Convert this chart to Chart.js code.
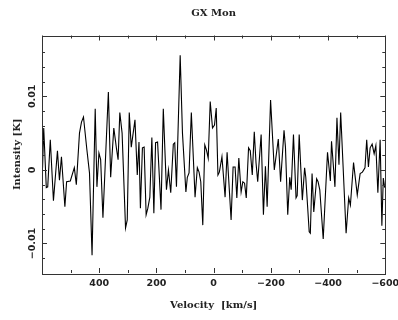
<!DOCTYPE html>
<html>
<head>
<meta charset="utf-8">
<script src="https://cdn.jsdelivr.net/npm/chart.js@4/dist/chart.umd.min.js"></script>
<style>
  html, body { margin: 0; padding: 0; background: #ffffff; }
  #wrap { width: 398px; height: 320px; }
</style>
</head>
<body>
<div id="wrap"><canvas id="spec" width="398" height="320"></canvas></div>
<script>
// GX Mon spectrum: velocity channels (km/s) and antenna intensity (K)
const velocity = [
  598, 594, 585, 580, 571, 560, 546, 539, 532, 520,
  514, 501, 487, 480, 469, 462, 455, 443, 434, 425,
  414, 408, 401, 395, 387, 368, 360, 349, 340, 334,
  328, 320, 308, 302, 295, 288, 275, 267, 261, 256,
  249, 243, 236, 230, 223, 216, 209, 203, 196, 184,
  176, 165, 158, 150, 141, 136, 130, 117, 109, 97,
  92, 86, 78, 65, 57, 51, 45, 38, 31, 25,
  19, 12, 4, -3, -9, -15, -20, -29, -40, -47,
  -61, -68, -75, -81, -88, -96, -102, -108, -114, -122,
  -128, -135, -142, -148, -154, -166, -174, -181, -187, -199,
  -212, -226, -234, -246, -251, -259, -266, -271, -279, -288,
  -292, -299, -310, -318, -322, -334, -338, -344, -350, -360,
  -365, -371, -383, -398, -408, -412, -424, -431, -438, -444,
  -463, -472, -478, -489, -502, -512, -520, -529, -535, -541,
  -547, -554, -561, -567, -574, -582, -588, -593, -598
];
const intensity = [
  0.0003, 0.0057, -0.0024, -0.0023, 0.0041, -0.0042, 0.0026, -0.0014, 0.0018, -0.0050,
  -0.0016, -0.0015, 0.0003, -0.0020, 0.0050, 0.0065, 0.0072, 0.0027, -0.0004, -0.0116,
  0.0083, -0.0023, 0.0023, 0.0014, -0.0065, 0.0106, -0.0010, 0.0057, 0.0030, 0.0014,
  0.0078, 0.0050, -0.0079, -0.0068, 0.0078, 0.0031, 0.0068, -0.0007, 0.0038, -0.0052,
  0.0030, 0.0031, -0.0061, -0.0052, -0.0037, 0.0044, -0.0059, 0.0037, 0.0038, -0.0054,
  0.0083, -0.0027, 0.0000, -0.0031, 0.0035, 0.0037, -0.0023, 0.0156, 0.0050, -0.0030,
  -0.0010, -0.0004, 0.0078, -0.0037, 0.0003, -0.0003, -0.0016, -0.0075, 0.0034, 0.0027,
  0.0016, 0.0093, 0.0057, 0.0061, 0.0084, -0.0007, -0.0003, 0.0018, -0.0037, 0.0024,
  -0.0068, 0.0004, 0.0004, -0.0038, 0.0016, -0.0030, -0.0016, -0.0018, -0.0038, 0.0030,
  0.0026, -0.0007, 0.0052, 0.0010, -0.0016, 0.0048, -0.0061, 0.0005, -0.0050, 0.0095,
  0.0000, 0.0042, -0.0016, 0.0054, 0.0031, -0.0061, -0.0010, -0.0027, 0.0048, -0.0038,
  -0.0035, 0.0048, -0.0041, 0.0003, -0.0010, -0.0084, -0.0086, -0.0005, -0.0057, -0.0012,
  -0.0016, -0.0027, -0.0094, 0.0024, -0.0015, 0.0039, -0.0023, 0.0071, 0.0007, 0.0078,
  -0.0086, -0.0038, -0.0048, 0.0010, -0.0034, -0.0005, -0.0003, 0.0003, 0.0041, 0.0004,
  0.0030, 0.0035, 0.0022, 0.0033, -0.0031, 0.0041, -0.0076, -0.0011, -0.0024
];

// Axis ticks
const xMajorTicks = [600, 400, 200, 0, -200, -400, -600];
const xMinorTicks = [500, 300, 100, -100, -300, -500];
const xTickLabels = ['', '400', '200', '0', '\u2212200', '\u2212400', '\u2212600'];
const yMajorTicks = [0.01, 0, -0.01];
const yMinorTicks = [0.016, 0.014, 0.012, 0.008, 0.006, 0.004, 0.002,
                     -0.002, -0.004, -0.006, -0.008, -0.012];
const yTickLabels = ['0.01', '0', '\u22120.01'];

const titleText = 'GX Mon';
const xTitle = 'Velocity  [km/s]';
const yTitle = 'Intensity [K]';

const TICK_FONT = 'bold 9.5px "DejaVu Sans"';
const TITLE_FONT = 'bold 10px "DejaVu Serif"';
const INK = '#222222';

// Boxed frame with inward ticks on all four sides, plus labels
const boxFrame = {
  id: 'boxFrame',
  afterDraw(chart) {
    const { ctx, chartArea: a, scales } = chart;
    const xs = scales.x, ys = scales.y;
    ctx.save();
    ctx.strokeStyle = '#333333';
    ctx.lineWidth = 1;
    ctx.strokeRect(Math.round(a.left) + 0.5, Math.round(a.top) + 0.5,
                   Math.round(a.right - a.left), Math.round(a.bottom - a.top));

    const vTick = (v, len) => {
      const p = Math.round(xs.getPixelForValue(v)) + 0.5;
      ctx.beginPath();
      ctx.moveTo(p, a.bottom); ctx.lineTo(p, a.bottom - len);
      ctx.moveTo(p, a.top); ctx.lineTo(p, a.top + len);
      ctx.stroke();
    };
    const hTick = (v, len) => {
      const p = Math.round(ys.getPixelForValue(v)) + 0.5;
      ctx.beginPath();
      ctx.moveTo(a.left, p); ctx.lineTo(a.left + len, p);
      ctx.moveTo(a.right, p); ctx.lineTo(a.right - len, p);
      ctx.stroke();
    };
    xMajorTicks.forEach(v => vTick(v, 5));
    xMinorTicks.forEach(v => vTick(v, 3));
    yMajorTicks.forEach(v => hTick(v, 5));
    yMinorTicks.forEach(v => hTick(v, 3));

    ctx.fillStyle = INK;
    ctx.textAlign = 'center';
    ctx.textBaseline = 'middle';
    ctx.font = TICK_FONT;
    xMajorTicks.forEach((v, i) => {
      if (xTickLabels[i]) ctx.fillText(xTickLabels[i], xs.getPixelForValue(v), a.bottom + 11);
    });
    yMajorTicks.forEach((v, i) => {
      ctx.save();
      ctx.translate(a.left - 9, ys.getPixelForValue(v));
      ctx.rotate(-Math.PI / 2);
      ctx.fillText(yTickLabels[i], 0, 0);
      ctx.restore();
    });

    ctx.font = TITLE_FONT;
    const cx = (a.left + a.right) / 2;
    ctx.fillText(titleText, cx, 13);
    ctx.fillText(xTitle, cx, a.bottom + 32);
    ctx.save();
    ctx.translate(17, (a.top + a.bottom) / 2);
    ctx.rotate(-Math.PI / 2);
    ctx.fillText(yTitle, 0, 0);
    ctx.restore();
    ctx.restore();
  }
};

new Chart(document.getElementById('spec'), {
  type: 'line',
  data: {
    datasets: [{
      data: velocity.map((v, i) => ({ x: v, y: intensity[i] })),
      borderColor: '#000000',
      borderWidth: 1.1,
      pointRadius: 0,
      tension: 0,
      fill: false
    }]
  },
  options: {
    responsive: false,
    animation: false,
    devicePixelRatio: 1,
    layout: { padding: { left: 42, right: 12.7, top: 35.5, bottom: 47 } },
    plugins: { legend: { display: false }, tooltip: { enabled: false }, title: { display: false } },
    scales: {
      x: { type: 'linear', reverse: true, min: -600, max: 600, display: false },
      y: { type: 'linear', min: -0.01401, max: 0.01827, display: false }
    }
  },
  plugins: [boxFrame]
});
</script>
</body>
</html>
